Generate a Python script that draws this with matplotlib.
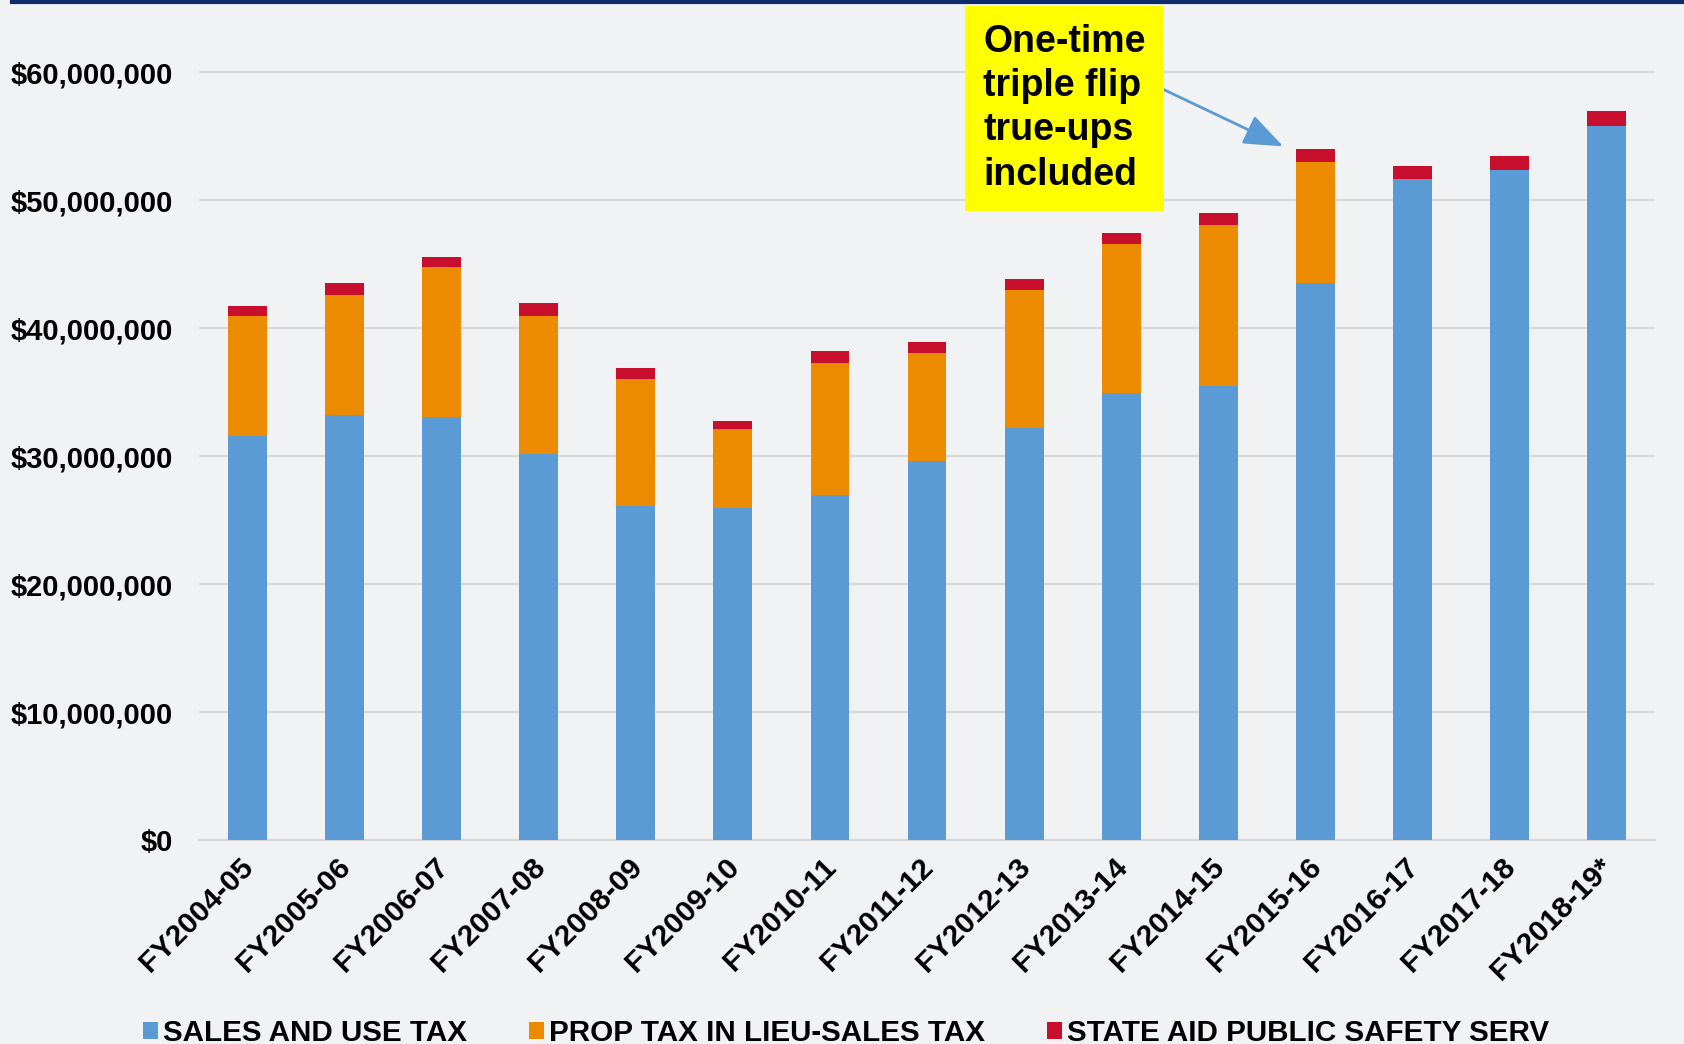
import numpy as np
import matplotlib.pyplot as plt
from matplotlib.lines import Line2D
from matplotlib.ticker import FuncFormatter
from matplotlib.transforms import ScaledTranslation

plt.rcParams['font.family'] = ['Liberation Sans', 'DejaVu Sans']

# Fiscal years and revenue by source (dollars)
years = ["FY2004-05", "FY2005-06", "FY2006-07", "FY2007-08", "FY2008-09",
         "FY2009-10", "FY2010-11", "FY2011-12", "FY2012-13", "FY2013-14",
         "FY2014-15", "FY2015-16", "FY2016-17", "FY2017-18", "FY2018-19*"]
sales_use = [31.56e6, 33.18e6, 33.02e6, 30.18e6, 26.07e6, 25.94e6, 26.95e6, 29.58e6,
             32.19e6, 34.90e6, 35.49e6, 43.49e6, 51.64e6, 52.37e6, 55.76e6]
prop_in_lieu = [9.38e6, 9.42e6, 11.72e6, 10.76e6, 9.92e6, 6.14e6, 10.32e6, 8.49e6,
                10.78e6, 11.66e6, 12.56e6, 9.48e6, 0, 0, 0]
public_safety = [0.80e6, 0.89e6, 0.81e6, 0.99e6, 0.91e6, 0.63e6, 0.91e6, 0.83e6,
                 0.84e6, 0.89e6, 0.98e6, 0.99e6, 1.06e6, 1.07e6, 1.17e6]
series_names = ["SALES AND USE TAX", "PROP TAX IN LIEU-SALES TAX", "STATE AID PUBLIC SAFETY SERV"]
colors = ["#5B9BD5", "#ED8B00", "#C8102E"]
note_text = "One-time\ntriple flip\ntrue-ups\nincluded"

bg = "#F1F2F4"
fig = plt.figure(figsize=(16.84, 10.44), dpi=100, facecolor=bg)
ax = fig.add_axes([0.1182, 0.1954, 0.8646, 0.7759], facecolor=bg)

x = np.arange(len(years))
w = 0.40
base2 = np.array(sales_use)
base3 = base2 + np.array(prop_in_lieu)
b1 = ax.bar(x, sales_use, w, color=colors[0], zorder=3)
b2 = ax.bar(x, prop_in_lieu, w, bottom=base2, color=colors[1], zorder=3)
b3 = ax.bar(x, public_safety, w, bottom=base3, color=colors[2], zorder=3)

ax.set_xlim(-0.5, len(years) - 0.5)
ax.set_ylim(0, 63.3e6)
ax.set_yticks(np.arange(0, 60e6 + 1, 10e6))
ax.yaxis.set_major_formatter(FuncFormatter(lambda v, p: "${:,.0f}".format(v)))
ax.grid(axis='y', color='#D9D9D9', linewidth=1.6, zorder=0)
for s in ['top', 'right', 'left']:
    ax.spines[s].set_visible(False)
ax.spines['bottom'].set_color('#D9D9D9')
ax.spines['bottom'].set_linewidth(1.6)
ax.tick_params(axis='y', length=0, pad=19, labelsize=21)
ax.tick_params(axis='x', length=0, pad=9, labelsize=21.5)
ax.set_xticks(x)
ax.set_xticklabels(years)
for lab in ax.get_yticklabels():
    lab.set_fontweight('bold')
shift = ScaledTranslation(-0.08, 0, fig.dpi_scale_trans)
for lab in ax.get_xticklabels():
    lab.set_fontweight('bold')
    lab.set_rotation(45)
    lab.set_ha('right')
    lab.set_va('top')
    lab.set_rotation_mode('anchor')
    lab.set_transform(lab.get_transform() + shift)

# callout box with arrow to the FY2015-16 bar
ax.annotate(note_text, xy=(10.67, 54.2e6), xytext=(7.58, 63.8e6),
            ha='left', va='top', fontsize=27, fontweight='bold', linespacing=1.3,
            bbox=dict(boxstyle='square,pad=0.48', fc='#FFFF00', ec='none'),
            arrowprops=dict(arrowstyle='-|>,head_length=0.9,head_width=0.35',
                            color='#5B9BD5', lw=2, shrinkA=0, shrinkB=0,
                            relpos=(1.0, 0.66)),
            annotation_clip=False, zorder=5)

fig.legend([b1, b2, b3], series_names, loc='lower left', ncol=3,
           bbox_to_anchor=(0.0849, -0.003), frameon=False,
           prop=dict(size=21.3, weight='bold'), handlelength=0.52, handleheight=0.52,
           handletextpad=0.17, columnspacing=2.08, borderpad=0, borderaxespad=0)

# dark rule along the top edge
fig.add_artist(Line2D([0.007, 1.0], [0.9985, 0.9985], color='#0D2C6C', linewidth=3))

fig.savefig("out.png", dpi=100, facecolor=bg)
